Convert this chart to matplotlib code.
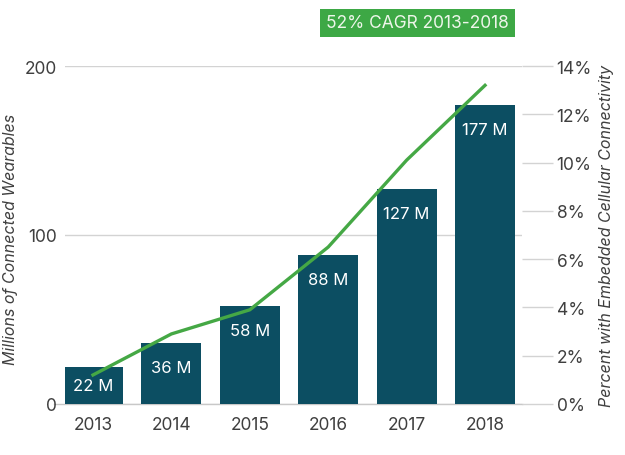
import numpy as np
import matplotlib.pyplot as plt
from matplotlib.patches import Rectangle

plt.rcParams['font.family'] = ['Inter', 'DejaVu Sans']

# Daten
years = ['2013', '2014', '2015', '2016', '2017', '2018']
wearables = [22, 36, 58, 88, 127, 177]
bar_labels = ['22 M', '36 M', '58 M', '88 M', '127 M', '177 M']
cellular_pct = [1.2, 2.9, 3.9, 6.5, 10.1, 13.2]

bar_col = '#0c4e62'
line_col = '#45a845'
txt_col = '#3f3f3f'

fig = plt.figure(figsize=(6.25, 4.56), dpi=100)
ax = fig.add_axes([0.104, 0.112, 0.731, 0.741])
x = np.arange(len(years))

ax.bar(x, wearables, width=0.765, color=bar_col, zorder=2)
for xi, v, lab in zip(x, wearables, bar_labels):
    ax.text(xi, v - min(14.5, v / 2), lab, ha='center', va='center', color='white',
            fontsize=12, zorder=3)

ax.set_ylim(0, 200)
ax.set_xlim(-0.357, 5.47)
ax.set_yticks([0, 100, 200])
ax.set_xticks(x)
ax.set_xticklabels(years)
ax.grid(axis='y', color='#d3d3d3', linewidth=1, zorder=0)
ax.plot([-0.5, 5.47], [0, 0], color='#c8c8c8', linewidth=1, clip_on=False, zorder=1)
for s in ax.spines.values():
    s.set_visible(False)
ax.tick_params(axis='both', length=0, labelsize=12.5, labelcolor=txt_col)
ax.tick_params(axis='y', pad=6)
ax.tick_params(axis='x', pad=9)
ax.set_ylabel('Millions of Connected Wearables', fontstyle='italic', fontsize=11.5,
              color=txt_col)
ax.yaxis.set_label_coords(-0.102, 0.49)

ax2 = ax.twinx()
ax2.plot(x, cellular_pct, color=line_col, linewidth=2.4, zorder=4)
ax2.set_ylim(0, 14)
ax2.set_yticks(range(0, 15, 2))
ax2.set_yticklabels([f'{t}%' for t in range(0, 15, 2)])
for s in ax2.spines.values():
    s.set_visible(False)
ax2.tick_params(axis='y', length=22, width=1, color='#d3d3d3', labelsize=12.5,
                labelcolor=txt_col, pad=3, direction='out')
ax2.set_ylabel('Percent with Embedded Cellular Connectivity', fontstyle='italic',
               fontsize=11.5, color=txt_col, labelpad=5)

fig.patches.append(Rectangle((320 / 625, 1 - 38 / 456), 195 / 625, 28 / 456,
                             transform=fig.transFigure, facecolor='#3da845',
                             edgecolor='none'))
fig.text(417.5 / 625, 1 - 24 / 456, '52% CAGR 2013-2018', ha='center', va='center',
         color='#eef6ea', fontsize=12.5)

fig.savefig('out.png', dpi=100)
